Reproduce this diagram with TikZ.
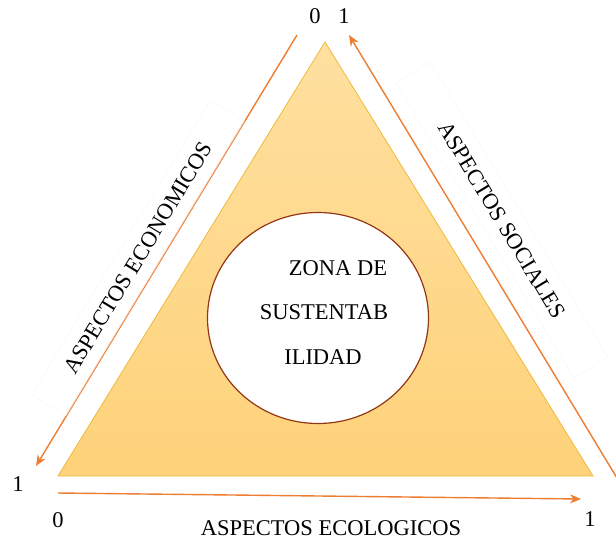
\documentclass[tikz,border=0pt]{standalone}
\usepackage{fontspec}
\setmainfont{Liberation Serif}
\usetikzlibrary{arrows.meta,shapes.geometric}

\definecolor{arrowc}{RGB}{237,125,49}
\definecolor{edgec}{RGB}{240,185,60}
\definecolor{topc}{RGB}{255,224,160}
\definecolor{botc}{RGB}{254,210,122}
\definecolor{ringc}{RGB}{150,55,20}

\tikzset{
    axis/.style={draw=arrowc,line width=1.4pt,-{Stealth[length=11pt,width=9pt]}},
    lbl/.style={font=\fontsize{22.5}{26}\selectfont,inner sep=0pt},
    sidebox/.style={lbl,draw=black!4,minimum width=345pt,minimum height=40pt}
}

\begin{document}
\begin{tikzpicture}[x=1pt,y=-1pt]
                \useasboundingbox (0,0) rectangle (616,542);

                % triangle
                \coordinate (top) at (325,42);
                \coordinate (left) at (58,476);
                \coordinate (right) at (593,476);
                \shade[top color=topc,bottom color=botc,draw=edgec,line width=0.8pt]
                    (top) -- (left) -- (right) -- cycle;

                \node[ellipse,draw=ringc,fill=white,line width=1.2pt,
                    minimum width=221pt,minimum height=211pt] (zone) at (318,318) {};
                \node[lbl] (z1) at (338,268) {ZONA DE};
                \node[lbl] (z2) at (324,312) {SUSTENTAB};
                \node[lbl] (z3) at (323,357) {ILIDAD};

                % axes
                \coordinate (econA) at (297,35);
                \coordinate (econB) at (36,466);
                \draw[axis] (econA) -- (econB);
                \coordinate (socA) at (620,483);
                \coordinate (socB) at (349,35);
                \draw[axis] (socA) -- (socB);
                \coordinate (ecoA) at (58,493);
                \coordinate (ecoB) at (581,499);
                \draw[axis] (ecoA) -- (ecoB);

                \node[sidebox,rotate=58.8] (econ) at (138,258) {ASPECTOS ECONOMICOS};
                \node[sidebox,rotate=-58.9] (soc) at (502,220) {ASPECTOS SOCIALES};
                \node[lbl] (eco) at (331,528) {ASPECTOS ECOLOGICOS};

                % scale marks
                \node[lbl] (n1) at (315,16) {0};
                \node[lbl] (n2) at (344,16) {1};
                \node[lbl] (n3) at (18,484) {1};
                \node[lbl] (n4) at (58,520) {0};
                \node[lbl] (n5) at (590,519) {1};
                \node[lbl] (n6) at (622,484) {0};
            \end{tikzpicture}
\end{document}
